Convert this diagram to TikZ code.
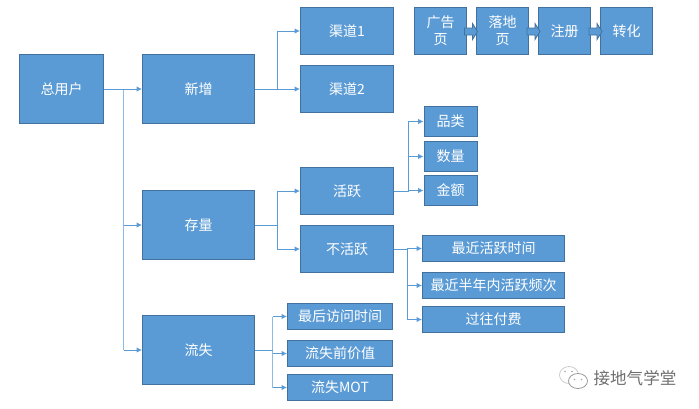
\documentclass[tikz,border=0pt]{standalone}
\usepackage{fontspec}
\setmainfont{Noto Sans CJK SC}
\usepackage{tikz}
\usetikzlibrary{arrows.meta}

\definecolor{boxfill}{HTML}{5B9BD5}
\definecolor{boxline}{HTML}{41719C}
\definecolor{lightline}{HTML}{8DBBE6}
\definecolor{markgray}{HTML}{6E6E6E}

\begin{document}
\begin{tikzpicture}
[   x=0.75pt, y=-0.75pt,
    box/.style={draw=boxline, line width=0.7pt, fill=boxfill, text=white, inner sep=0pt, align=center, font=\fontsize{10.5pt}{13pt}\selectfont},
    tall/.style={box, minimum width=84pt, minimum height=51.75pt},
    mid/.style={box, minimum width=69.75pt, minimum height=35.25pt},
    leaf/.style={box, minimum height=20pt},
    flow/.style={draw=boxfill, line width=0.7pt, -{Latex[length=4pt,width=4pt]}},
    plain flow/.style={draw=boxfill, line width=0.7pt},
    pale/.style={draw=lightline, line width=1.4pt},
    step arrow/.style={draw=boxline, fill=boxfill, line width=0.6pt},
    eye/.style={fill=markgray!60, circle, inner sep=0pt, minimum size=1.2pt},
]
    \useasboundingbox (-0.5,-0.5) rectangle (698.5,407.5);

    % first and second level
    \node[tall, minimum width=63pt] (total) at (61,88.5) {总用户};
    \node[tall] (new) at (198,88.5) {新增};
    \node[tall] (stock) at (198,224.5) {存量};
    \node[tall] (lost) at (198,349.5) {流失};

    % third level
    \foreach \name/\y/\txt in {ch-1/30.5/渠道1, ch-2/88.5/渠道2, act/190.5/活跃, idle/248.5/不活跃}
    {
        \node[mid] (\name) at (346.5,\y) {\txt};
    }

    % leaves
    \foreach \x/\y/\txt in {1/121/品类, 2/156/数量, 3/190/金额}
    {
        \node[leaf, minimum width=40pt, minimum height=22.5pt] (a-\x) at (450.2,\y) {\txt};
    }
    \foreach \x/\y/\txt in {1/248/最近活跃时间, 2/285/最近半年内活跃频次, 3/319/过往付费}
    {
        \node[leaf, minimum width=106.5pt] (b-\x) at (493,\y) {\txt};
    }
    \foreach \x/\y/\txt in {1/316/最后访问时间, 2/353/流失前价值, 3/387/流失MOT}
    {
        \node[leaf, minimum width=78.75pt] (c-\x) at (339.5,\y) {\txt};
    }

    % funnel on top
    \foreach \x/\cx/\txt in {1/440/广告\\页, 2/502/落地\\页, 3/564/注册, 4/626/转化}
    {
        \node[mid, minimum width=39pt] (f-\x) at (\cx,30.5) {\txt};
    }
    \foreach \cx in {464,526.5,588.5}
    {
        \draw[step arrow] (\cx,27.5) -- ++(8,0) -- ++(0,-4.5) -- ++(5,8) -- ++(-5,8) -- ++(0,-4.5) -- ++(-8,0) -- cycle;
    }

    % junctions
    \coordinate (j-total) at (123,88.5);
    \coordinate (j-new) at (277,88.5);
    \coordinate (j-stock) at (277,224.5);
    \coordinate (j-lost) at (272,350);
    \coordinate (j-act) at (408,190.5);
    \coordinate (j-idle) at (407,248.5);
    \coordinate (t-stock) at (123,224.5);
    \coordinate (t-lost) at (123,349.5);

    \draw[pale] (j-total) -- (t-lost);
    \draw[pale] (j-lost) -- (272,316);
    \draw[pale] (j-lost) -- (272,387);
    \draw[pale] (j-act) -- (408,121);

    \draw[flow] (total) -- (new);
    \draw[flow] (t-stock) -- (stock.west);
    \draw[flow] (t-lost) -- (lost.west);

    \draw[flow] (new) -- (ch-2);
    \draw[flow] (j-new) |- (ch-1.west);
    \draw[flow] (stock.east) -- (j-stock) |- (act.west);
    \draw[flow] (j-stock) |- (idle.west);
    \draw[plain flow] (lost.east |- j-lost) -- (j-lost);
    \foreach \x in {1,...,3}
    {
        \draw[flow] (272,0 |- c-\x.west) -- (c-\x.west);
        \draw[flow] (j-act) |- (a-\x.west);
        \draw[flow] (j-idle) |- (b-\x.west);
    }
    \draw[plain flow] (act.east) -- (j-act);
    \draw[plain flow] (idle.east) -- (j-idle);

    % account mark
    \draw[markgray!35, line width=0.6pt, fill=white] (568.5,374.5) ellipse (9.5 and 8.5);
    \draw[markgray!70, line width=0.6pt, fill=white] (577.5,380.5) ellipse (9.5 and 7.5);
    \node[eye] (e-1) at (564.5,371) {};
    \node[eye] (e-2) at (571.5,371) {};
    \node[eye] (e-3) at (574,379) {};
    \node[eye] (e-4) at (581,379) {};
    \node[text=markgray, font=\fontsize{12.4pt}{14pt}\selectfont, inner sep=0pt] (mark) at (634.5,378) {接地气学堂};

\end{tikzpicture}
\end{document}
